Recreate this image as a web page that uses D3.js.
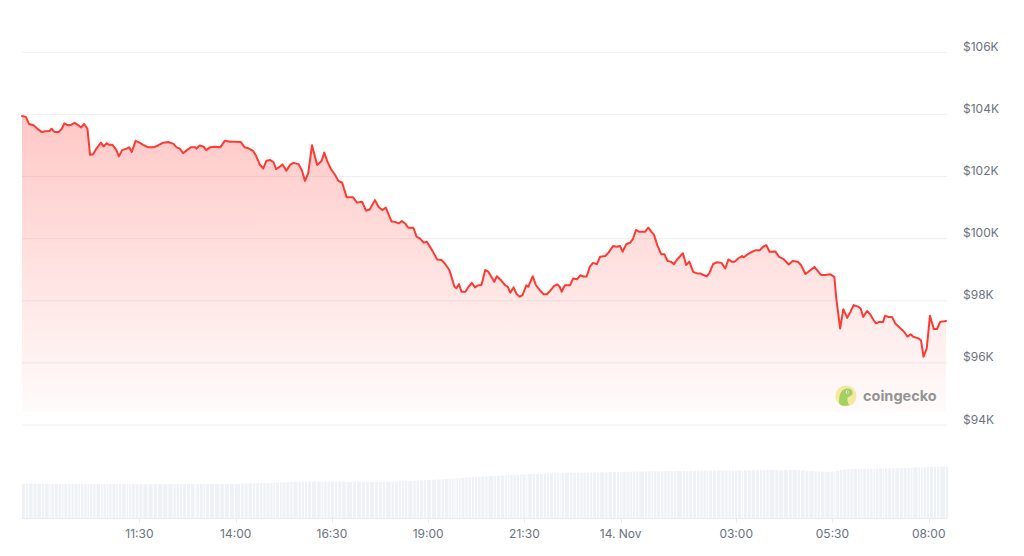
<!DOCTYPE html>
<html>
<head>
<meta charset="utf-8">
<script src="https://cdn.jsdelivr.net/npm/d3@7/dist/d3.min.js"></script>
<style>
  html, body { margin: 0; padding: 0; background: #ffffff; }
  svg { display: block; font-family: Inter, "Noto Sans", "DejaVu Sans", sans-serif; }
</style>
</head>
<body>
<svg id="chart" width="1024" height="556"></svg>
<script>
// ---- DATA ----
const startTime = Date.UTC(2024, 10, 13, 8, 27); // 13 Nov 2024 08:27

// minutes after startTime
const minutes = [
  0,6,11,18,24,31,36,43,46,51,57,62,66,72,77,82,88,92,97,102,
  106,111,116,123,127,132,136,141,147,151,156,163,167,171,177,183,189,197,205,212,
  220,228,236,241,246,251,257,263,270,272,277,283,287,293,301,309,316,324,332,341,
  347,353,360,365,371,376,381,387,392,396,402,406,412,418,423,431,436,441,446,452,
  460,467,471,476,481,488,493,499,506,516,522,530,536,542,550,556,562,567,576,581,
  587,592,597,602,610,615,620,626,631,639,647,654,659,666,670,674,677,681,685,691,
  696,701,706,711,716,722,727,736,740,746,753,757,761,766,771,776,780,786,789,796,
  801,807,813,818,823,829,834,838,841,846,854,859,865,870,875,880,885,890,896,901,
  909,914,921,927,932,936,942,948,952,957,962,971,976,981,985,990,996,1001,1006,1011,
  1016,1021,1030,1035,1040,1046,1052,1057,1062,1067,1071,1077,1083,1090,1096,1101,1106,1111,1116,1122,
  1125,1131,1137,1144,1150,1155,1160,1165,1174,1180,1187,1195,1201,1209,1214,1221,1227,1235,1240,1245,
  1252,1260,1266,1269,1275,1280,1286,1291,1296,1303,1307,1311,1317,1322,1327,1331,1336,1342,1345,1350,
  1356,1361,1368,1374,1380,1385,1389,1397,1401,1405,1410,1415,1421,1426,1431,1440
];

// BTC price in USD
const prices = [
  103950,103920,103690,103650,103540,103430,103460,103470,103540,103430,103430,103540,103710,103650,103670,103730,103650,103580,103690,103540,
  102700,102720,102900,103090,102970,103070,103020,103020,102860,102650,102850,102900,102940,102790,103150,103090,103020,102940,102940,103000,
  103090,103110,103050,102940,102900,102750,102850,102940,102940,102900,103000,102960,102850,102940,102960,102940,103150,103120,103120,103110,
  102940,102910,102830,102660,102370,102260,102510,102530,102460,102240,102320,102390,102190,102380,102440,102400,102210,101860,102100,103010,
  102370,102510,102770,102480,102260,102050,101860,101800,101330,101330,101160,101190,100900,100940,101240,101010,100920,101000,100550,100540,
  100490,100570,100490,100350,100350,100060,100010,99870,99900,99630,99330,99310,99200,98990,98720,98450,98400,98540,98290,98290,
  98450,98580,98430,98500,98510,98990,98930,98610,98790,98670,98500,98450,98260,98430,98210,98130,98180,98500,98450,98790,
  98500,98340,98210,98210,98320,98470,98530,98450,98290,98500,98500,98720,98690,98820,98780,98780,99100,99220,99180,99420,
  99440,99550,99760,99740,99760,99580,99830,99870,99990,100280,100220,100220,100360,100220,100120,99790,99500,99500,99280,99260,
  99180,99330,99530,99150,99260,98930,98880,98880,98830,98790,98880,99180,99240,99220,99040,99330,99260,99260,99360,99440,
  99400,99500,99570,99630,99630,99740,99790,99580,99590,99410,99340,99170,99280,99260,99150,98860,98960,99090,98960,98830,
  98830,98850,98770,98080,97110,97730,97450,97640,97860,97810,97750,97480,97670,97560,97380,97270,97320,97320,97520,97480,
  97480,97270,97130,97020,96840,96920,96840,96790,96730,96200,96470,97520,97090,97090,97320,97350
];

// 24h trading volume, billions USD
const volumes = [
  68.6,68.5,68.7,68.4,68.6,68.5,68.3,68.6,68.4,68.5,
  68.2,68.0,68.3,68.1,67.9,68.0,68.2,67.8,68.1,67.9,
  67.7,67.9,68.0,67.8,67.6,67.9,67.7,67.8,67.5,67.7,
  67.6,67.8,67.5,67.7,67.4,67.6,67.5,67.7,67.6,67.8,
  67.5,67.7,67.6,67.9,67.8,68.0,67.7,67.9,67.8,68.0,
  67.9,68.1,67.8,68.0,68.2,68.1,
  68.3,68.5,68.4,68.8,69.0,69.3,69.1,69.6,69.9,70.2,70.0,70.5,70.8,71.0,71.3,71.1,71.6,71.9,72.2,72.4,72.7,
  72.9,72.6,73.0,72.8,72.5,72.7,72.9,72.6,72.4,72.8,72.6,72.3,72.5,72.7,72.4,72.6,72.3,72.5,72.2,72.6,72.4,
  72.5,72.8,73.0,73.4,73.7,74.0,74.4,74.9,75.3,75.6,
  76.0,76.5,77.0,77.4,77.9,78.3,78.8,79.2,79.6,80.1,
  80.5,80.9,81.3,81.8,82.2,82.6,83.0,83.5,83.8,84.2,
  84.6,85.0,85.3,85.7,86.0,86.4,86.6,86.9,87.2,87.5,
  87.7,87.9,88.2,88.4,88.6,88.8,89.0,89.1,89.3,89.4,
  89.6,89.7,
  89.9,90.1,90.2,90.4,90.5,90.7,90.9,91.0,91.2,91.4,
  91.5,91.7,91.9,92.0,92.2,92.3,92.5,92.6,92.8,92.9,
  93.1,93.2,93.3,93.4,93.6,93.7,93.8,93.9,94.0,94.1,
  94.2,94.2,94.3,94.4,94.5,94.5,94.6,94.7,94.7,94.8,
  94.9,94.9,95.0,95.0,95.1,95.1,95.2,95.2,95.3,95.3,
  95.4,95.4,95.5,95.5,95.6,95.6,95.7,95.7,95.6,95.5,
  95.8,95.9,96.0,95.8,95.4,94.5,93.6,93.0,92.7,92.6,
  92.5,92.7,93.2,94.5,96.0,97.2,97.6,97.9,98.2,98.4,
  98.6,98.7,98.8,98.9,99.0,99.1,99.2,99.2,99.3,99.4,
  99.5,99.6,99.7,100.0,100.4,100.8,101.1,101.4,101.6,101.8,
  102.1,102.4,102.6,102.7,102.5,102.6
];

const priceTicks = [94000, 96000, 98000, 100000, 102000, 104000, 106000];
const timeTicks = [
  Date.UTC(2024,10,13,11,30), Date.UTC(2024,10,13,14,0), Date.UTC(2024,10,13,16,30),
  Date.UTC(2024,10,13,19,0), Date.UTC(2024,10,13,21,30), Date.UTC(2024,10,14,0,0),
  Date.UTC(2024,10,14,3,0), Date.UTC(2024,10,14,5,30), Date.UTC(2024,10,14,8,0)
];
const timeSpanMinutes = 1440;

// ---- CHART ----
const svg = d3.select("#chart");
const left = 22, right = 946;
const priceTop = 52.3, priceBottom = 425;
const areaBottom = 412;
const volTop = 460, volBottom = 518;

const data = minutes.map((m, i) => ({
  t: new Date(startTime + m * 60000),
  p: prices[i],
  v: volumes[i]
}));

const x = d3.scaleUtc()
  .domain([new Date(startTime), new Date(startTime + timeSpanMinutes * 60000)])
  .range([left, right]);
const y = d3.scaleLinear().domain([94000, 106000]).range([priceBottom, priceTop]);
const yv = d3.scaleLinear().domain([0, 116]).range([volBottom, volTop]);

// gridlines
svg.append("g")
  .selectAll("line")
  .data(priceTicks)
  .join("line")
  .attr("x1", left).attr("x2", right + 1)
  .attr("y1", d => y(d)).attr("y2", d => y(d))
  .attr("stroke", "#f0f0f0").attr("stroke-width", 1);

// y labels
const fmtK = d => "$" + (d / 1000) + "K";
svg.append("g")
  .selectAll("text")
  .data(priceTicks)
  .join("text")
  .attr("x", 963)
  .attr("y", d => y(d) - 1.5)
  .attr("font-size", 12)
  .attr("fill", "#6b7280")
  .text(fmtK);

// volume bars
svg.append("g")
  .selectAll("rect")
  .data(data)
  .join("rect")
  .attr("x", d => x(d.t))
  .attr("width", (d, i) => {
    const next = i < data.length - 1 ? data[i + 1].t : new Date(+d.t + 5 * 60000);
    return Math.max(0.5, x(next) - x(d.t) - 0.9);
  })
  .attr("y", d => yv(d.v))
  .attr("height", d => volBottom - yv(d.v))
  .attr("fill", "#eef1f5");

// x axis baseline & ticks
svg.append("line")
  .attr("x1", left).attr("x2", right + 1)
  .attr("y1", volBottom + 0.5).attr("y2", volBottom + 0.5)
  .attr("stroke", "#e9ebee");
svg.append("g")
  .selectAll("line")
  .data(timeTicks)
  .join("line")
  .attr("x1", d => Math.round(x(new Date(d))) + 0.5)
  .attr("x2", d => Math.round(x(new Date(d))) + 0.5)
  .attr("y1", volBottom).attr("y2", volBottom + 5)
  .attr("stroke", "#e9ebee");

const fmtTime = d3.utcFormat("%H:%M");
const fmtDay = d => d3.utcFormat("%-d")(d) + ". " + d3.utcFormat("%b")(d);
svg.append("g")
  .selectAll("text")
  .data(timeTicks)
  .join("text")
  .attr("x", d => x(new Date(d)))
  .attr("y", 538)
  .attr("text-anchor", "middle")
  .attr("font-size", 12)
  .attr("fill", "#6b7280")
  .text(d => {
    const dt = new Date(d);
    return (dt.getUTCHours() === 0 && dt.getUTCMinutes() === 0) ? fmtDay(dt) : fmtTime(dt);
  });

// area gradient
const defs = svg.append("defs");
const grad = defs.append("linearGradient")
  .attr("id", "areaGrad")
  .attr("x1", 0).attr("y1", 0).attr("x2", 0).attr("y2", 1);
grad.append("stop").attr("offset", "0%").attr("stop-color", "#ff3a33").attr("stop-opacity", 0.28);
grad.append("stop").attr("offset", "100%").attr("stop-color", "#ff3a33").attr("stop-opacity", 0.02);

const area = d3.area()
  .x(d => x(d.t))
  .y0(areaBottom)
  .y1(d => y(d.p));
svg.append("path")
  .datum(data)
  .attr("d", area)
  .attr("fill", "url(#areaGrad)");

const line = d3.line()
  .x(d => x(d.t))
  .y(d => y(d.p));
svg.append("path")
  .datum(data)
  .attr("d", line)
  .attr("fill", "none")
  .attr("stroke", "#ff3a33")
  .attr("stroke-width", 2)
  .attr("stroke-linejoin", "round")
  .attr("stroke-linecap", "round");

// coingecko watermark
const logo = svg.append("g").attr("opacity", 0.8);
logo.append("circle").attr("cx", 846).attr("cy", 396).attr("r", 10.5).attr("fill", "#f5e48c");
logo.append("path")
  .attr("d", "M839.5,404 C838.5,397 840,389.5 846.5,388.5 C851,388 853.5,391 852.5,394 C851.5,396.5 848.5,396 847.5,398 C846.8,400 848,403 849,405 C846,406.5 842,406 839.5,404 Z")
  .attr("fill", "#8cc83c");
logo.append("circle").attr("cx", 847.5).attr("cy", 392).attr("r", 1.6).attr("fill", "#ffffff");
logo.append("circle").attr("cx", 847.8).attr("cy", 392).attr("r", 0.8).attr("fill", "#4a4a4a");
logo.append("text")
  .attr("x", 863).attr("y", 400.5)
  .attr("font-size", 14.5)
  .attr("font-weight", 700)
  .attr("fill", "#7a7a7a")
  .text("coingecko");
</script>
</body>
</html>
